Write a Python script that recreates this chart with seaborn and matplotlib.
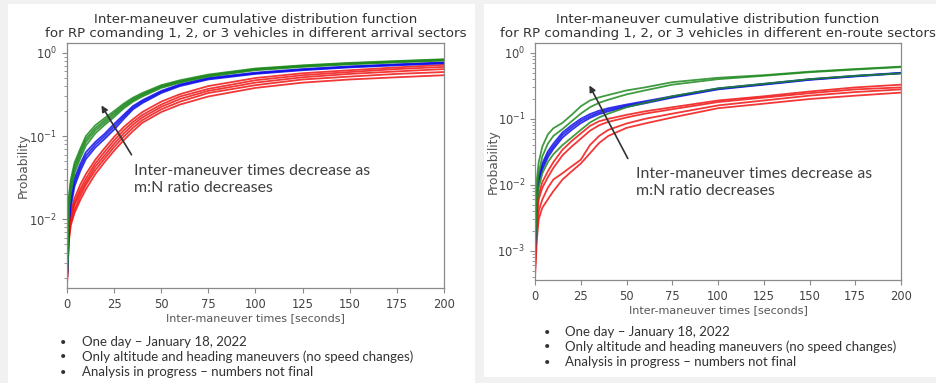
import matplotlib
matplotlib.use("Agg")
import matplotlib.pyplot as plt
import numpy as np
import pandas as pd
import seaborn as sns
from matplotlib.patches import Rectangle

# time grid (seconds) shared by all curves
T = [0, 1, 2, 4, 7, 10, 15, 20, 25, 30, 35, 40, 50, 60, 75, 100, 125, 150, 175, 200]

# arrival sectors
arr_green = [
    [0.0025, 0.019, 0.030, 0.048, 0.070, 0.100, 0.135, 0.165, 0.20, 0.245, 0.29, 0.33, 0.41, 0.47, 0.55, 0.65, 0.71, 0.76, 0.80, 0.84],
    [0.0022, 0.017, 0.027, 0.044, 0.065, 0.092, 0.125, 0.155, 0.19, 0.235, 0.28, 0.32, 0.40, 0.46, 0.54, 0.64, 0.70, 0.75, 0.79, 0.83],
    [0.0020, 0.015, 0.024, 0.040, 0.060, 0.085, 0.117, 0.146, 0.18, 0.225, 0.27, 0.31, 0.39, 0.45, 0.53, 0.63, 0.69, 0.74, 0.78, 0.82],
    [0.0018, 0.013, 0.021, 0.036, 0.054, 0.077, 0.108, 0.137, 0.17, 0.215, 0.26, 0.30, 0.38, 0.44, 0.52, 0.62, 0.68, 0.73, 0.77, 0.81],
]
arr_blue = [
    [0.0020, 0.011, 0.018, 0.031, 0.046, 0.064, 0.085, 0.107, 0.14, 0.18, 0.23, 0.27, 0.35, 0.42, 0.50, 0.58, 0.64, 0.69, 0.73, 0.77],
    [0.0019, 0.010, 0.016, 0.028, 0.042, 0.058, 0.079, 0.100, 0.13, 0.17, 0.22, 0.26, 0.34, 0.41, 0.49, 0.57, 0.63, 0.68, 0.72, 0.76],
    [0.0018, 0.009, 0.014, 0.025, 0.038, 0.053, 0.073, 0.093, 0.12, 0.16, 0.21, 0.25, 0.33, 0.40, 0.48, 0.56, 0.62, 0.67, 0.71, 0.75],
]
arr_red = [
    [0.0020, 0.0080, 0.0120, 0.018, 0.026, 0.035, 0.052, 0.072, 0.098, 0.128, 0.160, 0.195, 0.260, 0.32, 0.40, 0.50, 0.57, 0.62, 0.67, 0.72],
    [0.0019, 0.0070, 0.0110, 0.016, 0.023, 0.031, 0.047, 0.065, 0.089, 0.117, 0.148, 0.180, 0.240, 0.30, 0.37, 0.47, 0.54, 0.59, 0.64, 0.68],
    [0.0018, 0.0065, 0.0100, 0.015, 0.021, 0.028, 0.043, 0.059, 0.081, 0.107, 0.137, 0.168, 0.225, 0.28, 0.35, 0.44, 0.51, 0.56, 0.60, 0.64],
    [0.0017, 0.0060, 0.0090, 0.013, 0.019, 0.026, 0.039, 0.054, 0.074, 0.098, 0.126, 0.156, 0.210, 0.26, 0.33, 0.41, 0.48, 0.52, 0.56, 0.59],
    [0.0016, 0.0055, 0.0085, 0.012, 0.017, 0.023, 0.035, 0.049, 0.067, 0.089, 0.115, 0.145, 0.195, 0.24, 0.30, 0.38, 0.44, 0.48, 0.51, 0.54],
]

# en-route sectors
enr_green = [
    [0.0020, 0.012, 0.022, 0.038, 0.058, 0.072, 0.087, 0.115, 0.155, 0.190, 0.212, 0.230, 0.270, 0.300, 0.360, 0.420, 0.460, 0.520, 0.570, 0.620],
    [0.0015, 0.008, 0.015, 0.027, 0.042, 0.055, 0.070, 0.092, 0.120, 0.150, 0.175, 0.195, 0.235, 0.270, 0.330, 0.400, 0.450, 0.510, 0.560, 0.610],
    [0.0009, 0.005, 0.009, 0.015, 0.022, 0.029, 0.040, 0.052, 0.068, 0.088, 0.105, 0.120, 0.150, 0.175, 0.220, 0.290, 0.340, 0.400, 0.450, 0.490],
]
enr_blue = [
    [0.0012, 0.008, 0.013, 0.021, 0.032, 0.042, 0.062, 0.080, 0.100, 0.118, 0.133, 0.145, 0.165, 0.185, 0.220, 0.290, 0.340, 0.400, 0.450, 0.500],
    [0.0011, 0.007, 0.012, 0.019, 0.029, 0.038, 0.057, 0.074, 0.093, 0.110, 0.125, 0.137, 0.158, 0.178, 0.215, 0.285, 0.335, 0.395, 0.445, 0.495],
    [0.0010, 0.006, 0.011, 0.017, 0.026, 0.035, 0.052, 0.068, 0.086, 0.103, 0.118, 0.130, 0.152, 0.172, 0.210, 0.280, 0.330, 0.390, 0.440, 0.490],
]
enr_red = [
    [0.0006, 0.0040, 0.0070, 0.0110, 0.016, 0.022, 0.034, 0.046, 0.060, 0.078, 0.092, 0.100, 0.115, 0.130, 0.150, 0.190, 0.220, 0.260, 0.300, 0.330],
    [0.0006, 0.0030, 0.0060, 0.0090, 0.013, 0.018, 0.028, 0.038, 0.050, 0.066, 0.080, 0.090, 0.105, 0.120, 0.140, 0.180, 0.210, 0.245, 0.280, 0.300],
    [0.0005, 0.0020, 0.0040, 0.0060, 0.009, 0.012, 0.015, 0.019, 0.024, 0.040, 0.055, 0.068, 0.085, 0.100, 0.120, 0.160, 0.190, 0.225, 0.255, 0.280],
    [0.0004, 0.0015, 0.0030, 0.0045, 0.006, 0.008, 0.012, 0.016, 0.021, 0.030, 0.043, 0.055, 0.073, 0.085, 0.105, 0.145, 0.170, 0.200, 0.225, 0.250],
]

titles = [
    "Inter-maneuver cumulative distribution function\nfor RP comanding 1, 2, or 3 vehicles in different arrival sectors",
    "Inter-maneuver cumulative distribution function\nfor RP comanding 1, 2, or 3 vehicles in different en-route sectors",
]
bullets = [
    "One day \u2013 January 18, 2022",
    "Only altitude and heading maneuvers (no speed changes)",
    "Analysis in progress \u2013 numbers not final",
]
note = "Inter-maneuver times decrease as\nm:N ratio decreases"
palette = {"red": "#f01414", "blue": "#1010e8", "green": "#1f8a1f"}


def to_frame(groups):
    rows = []
    for name, curves in groups.items():
        for i, vals in enumerate(curves):
            for t, p in zip(T, vals):
                rows.append({"t": t, "p": p, "group": name, "curve": f"{name}{i}"})
    return pd.DataFrame(rows)


df_arr = to_frame({"red": arr_red, "blue": arr_blue, "green": arr_green})
df_enr = to_frame({"red": enr_red, "blue": enr_blue, "green": enr_green})

sns.set_style("ticks")
plt.rcParams["font.family"] = ["DejaVu Sans"]

fig = plt.figure(figsize=(9.37, 3.83), dpi=100, facecolor="#f1f1f1")
# white slide panels behind the charts
fig.patches.append(Rectangle((0.0085, 0.0), 0.498, 0.99, transform=fig.transFigure,
                             facecolor="white", edgecolor="none", zorder=-10))
fig.patches.append(Rectangle((0.5165, 0.0157), 0.4835, 0.974, transform=fig.transFigure,
                             facecolor="white", edgecolor="none", zorder=-10))

ax1 = fig.add_axes([0.0715, 0.248, 0.4023, 0.640])
ax2 = fig.add_axes([0.571, 0.269, 0.3906, 0.619])

setups = [
    (ax1, df_arr, (1.5e-3, 1.32), ((17.5, 0.25), (35, 0.056)), (0.178, 0.505), -0.098),
    (ax2, df_enr, (3.6e-4, 1.42), ((29, 0.35), (51.4, 0.023)), (0.276, 0.476), -0.096),
]

for k, (ax, df, ylim, arrow, txt, ylab_x) in enumerate(setups):
    sns.lineplot(data=df, x="t", y="p", hue="group", units="curve", estimator=None,
                 palette=palette, hue_order=["red", "blue", "green"], lw=1.3, alpha=0.85,
                 legend=False, ax=ax)
    ax.set_yscale("log")
    ax.set_xlim(0, 200)
    ax.set_ylim(*ylim)
    ax.set_xticks(np.arange(0, 201, 25))
    ax.set_facecolor("white")
    for s in ax.spines.values():
        s.set_color("#8a8a8a")
        s.set_linewidth(0.9)
    ax.tick_params(colors="#8a8a8a", labelcolor="#444444", labelsize=8.3, length=3.5, width=0.8)
    ax.tick_params(which="minor", colors="#8a8a8a", length=2, width=0.6)
    ax.set_xlabel("Inter-maneuver times [seconds]", fontsize=8, color="#555555", labelpad=2)
    ax.set_ylabel("Probability", fontsize=8.8, color="#555555")
    ax.yaxis.set_label_coords(ylab_x, 0.5)
    ax.set_title(titles[k], fontsize=9.6, color="#333333", pad=4, linespacing=1.1)
    ax.annotate("", xy=arrow[0], xytext=arrow[1],
                arrowprops=dict(arrowstyle="-|>", color="#333333", lw=1.2, mutation_scale=9))
    ax.text(txt[0], txt[1], note, transform=ax.transAxes, ha="left", va="top",
            fontsize=11.4, color="#404040", family=["Lato", "DejaVu Sans"], linespacing=1.25)

# bullet notes under each chart
for (xd, xt, y0) in [(63, 82, 342), (547, 565, 332)]:
    for i, b in enumerate(bullets):
        y = 1 - (y0 + 15 * i) / 383
        fig.text(xd / 937, y, "\u2022", fontsize=8, color="#333333", va="center", ha="center",
                 family=["Lato", "DejaVu Sans"])
        fig.text(xt / 937, y, b, fontsize=9.5, color="#333333", va="center", ha="left",
                 family=["Lato", "DejaVu Sans"])

fig.savefig("out.png", dpi=100, facecolor=fig.get_facecolor())
